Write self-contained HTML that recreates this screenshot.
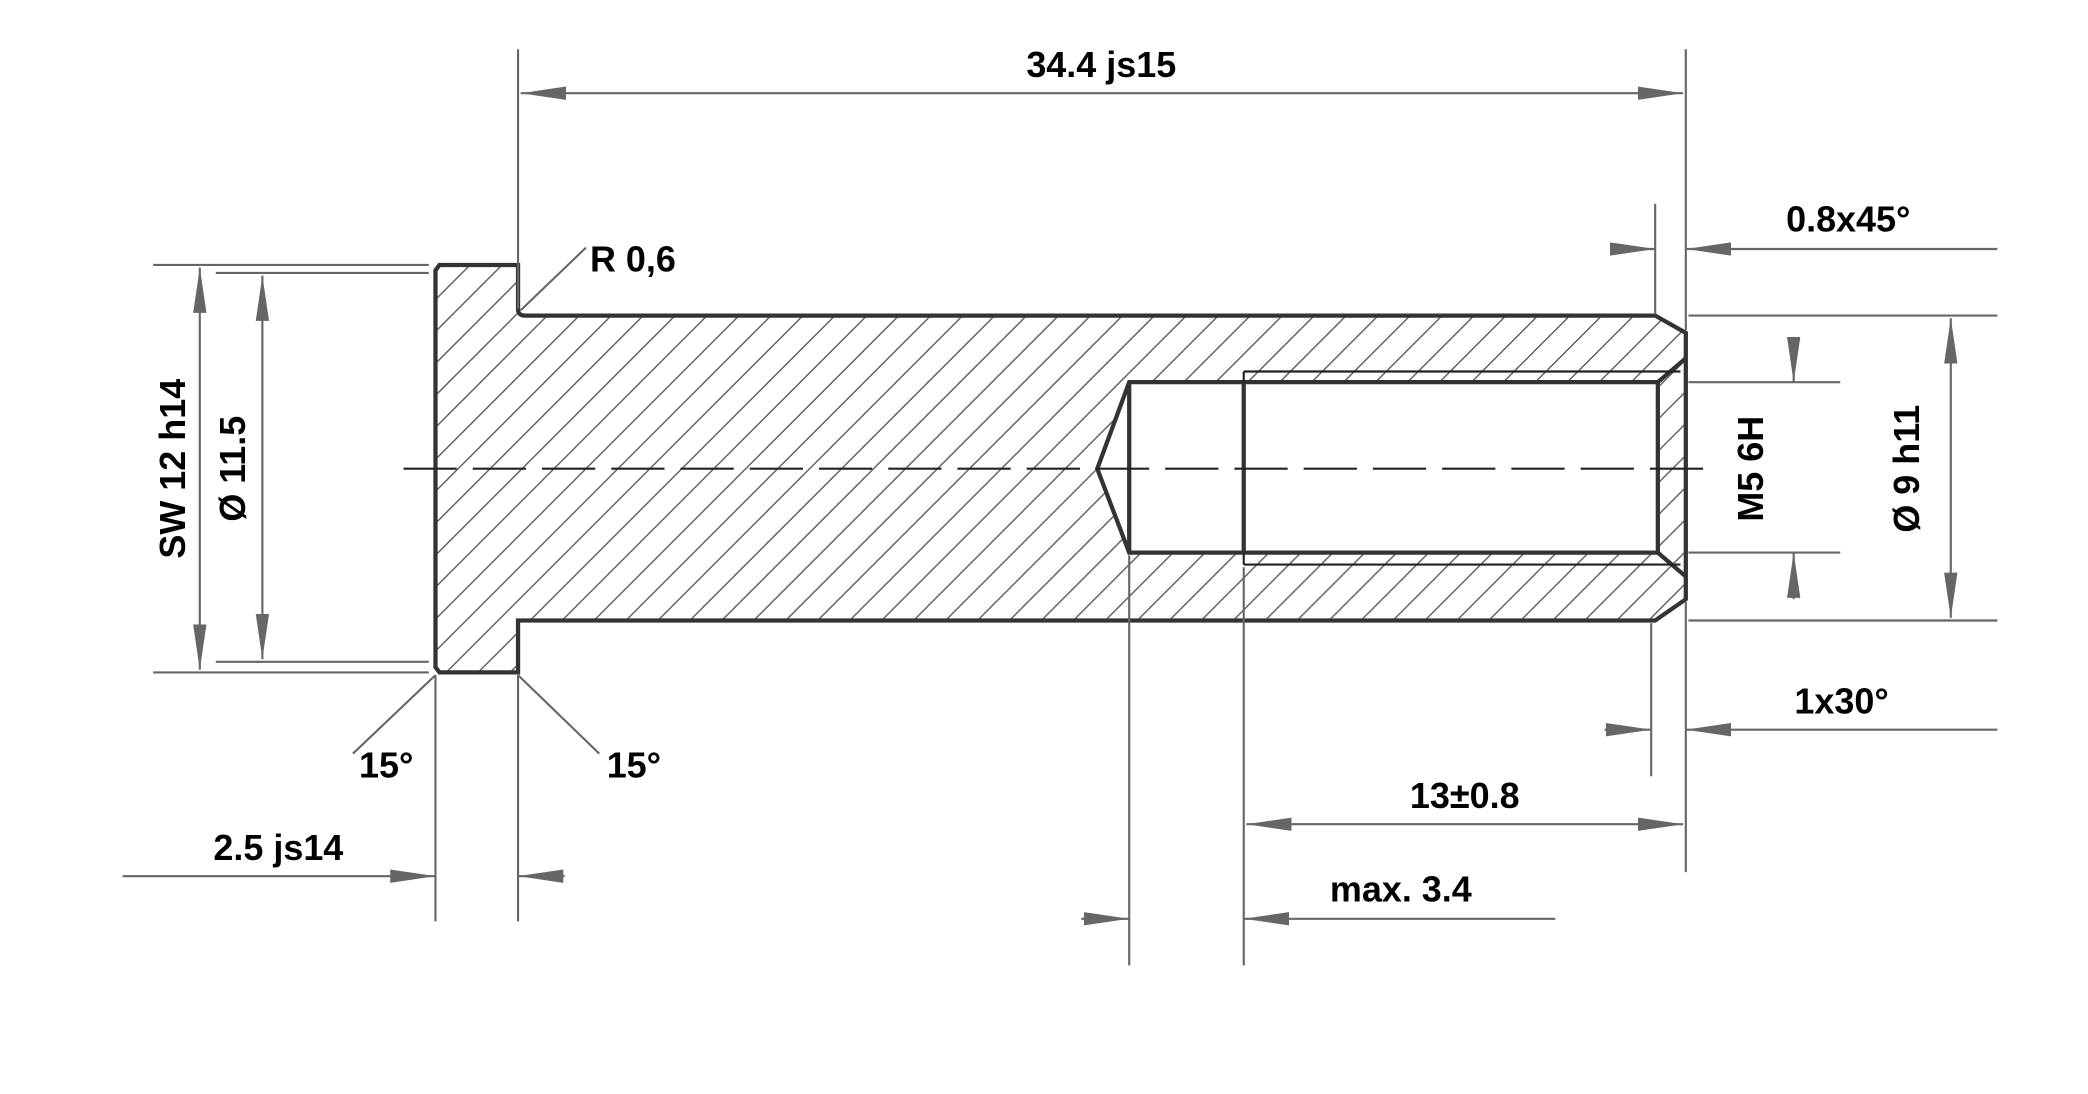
<!DOCTYPE html>
<html><head><meta charset="utf-8"><style>html,body{margin:0;padding:0;background:#fff}svg{display:block}</style></head><body>
<svg width="2088" height="1094" viewBox="0 0 1568 821.6" xmlns="http://www.w3.org/2000/svg" font-family="Liberation Sans, sans-serif" font-weight="bold" font-size="27" fill="#000">
<defs>
<pattern id="h" patternUnits="userSpaceOnUse" width="24" height="24">
<path d="M-2,26 L26,-2 M-4,4 L4,-4 M20,28 L28,20" stroke="#555" stroke-width="1"/>
</pattern>
<marker id="a" viewBox="0 0 34 10" refX="34" refY="5" markerWidth="34" markerHeight="10" markerUnits="userSpaceOnUse" orient="auto-start-reverse"><path d="M0,0 L34,5 L0,10 Z" fill="#666"/></marker>
</defs>
<path fill-rule="evenodd" fill="url(#h)" d="M330,199 L389,199 L389,232 Q389,237 394,237 L1243,237 L1266,250 L1266,450 L1243,466 L389,466 L389,505 L330,505 L327,501 L327,203 Z M848,287 L1245,287 L1245,415 L848,415 L824,352 Z"/>
<g fill="none" stroke="#333" stroke-width="3.2" stroke-linejoin="miter">
<path d="M330,199 L389,199 L389,232 Q389,237 394,237 L1243,237 L1266,250 L1266,450 L1243,466 L389,466 L389,505 L330,505 L327,501 L327,203 Z"/>
<path d="M1245,287 L848,287 L824,352 L848,415 L1245,415 Z"/>
<path d="M848,287 L848,415 M934,287 L934,415 M1245,287 L1266,269 M1245,415 L1266,433"/>
</g>
<g fill="none" stroke="#222" stroke-width="1.6">
<path d="M934,279 L1262,279 M934,424 L1262,424 M934,279 L934,287 M934,415 L934,424"/>
<path d="M303,352 L1290,352" stroke-dasharray="40,12"/>
</g>
<g fill="none" stroke="#666" stroke-width="1.6">
<path d="M389,37 L389,232 M1266,37 L1266,248"/>
<path d="M391,70 L1264,70" marker-start="url(#a)" marker-end="url(#a)"/>
<path d="M1243,153 L1243,236 M1240,468 L1240,583"/>
<path d="M1210,187 L1243,187" marker-end="url(#a)"/>
<path d="M1500,187 L1266,187" marker-end="url(#a)"/>
<path d="M1205,548 L1240,548" marker-end="url(#a)"/>
<path d="M1500,548 L1266,548" marker-end="url(#a)"/>
<path d="M1268,237 L1500,237 M1268,466 L1500,466"/>
<path d="M1465,239 L1465,464" marker-start="url(#a)" marker-end="url(#a)"/>
<path d="M1268,287 L1382,287 M1268,415 L1382,415"/>
<path d="M1347,253 L1347,287" marker-end="url(#a)"/>
<path d="M1347,450 L1347,415" marker-end="url(#a)"/>
<path d="M115,199 L322,199 M115,505 L322,505"/>
<path d="M150,201 L150,503" marker-start="url(#a)" marker-end="url(#a)"/>
<path d="M162,205 L322,205 M162,497 L322,497"/>
<path d="M197,207 L197,495" marker-start="url(#a)" marker-end="url(#a)"/>
<path d="M327,507 L265,566 M389,507 L450,566"/>
<path d="M391,233 L440,186"/>
<path d="M327,507 L327,692 M389,507 L389,692"/>
<path d="M92,658 L327,658" marker-end="url(#a)"/>
<path d="M424,658 L389,658" marker-end="url(#a)"/>
<path d="M934,426 L934,725 M1266,452 L1266,655 M848,417 L848,725"/>
<path d="M936,619 L1264,619" marker-start="url(#a)" marker-end="url(#a)"/>
<path d="M812,690 L848,690" marker-end="url(#a)"/>
<path d="M1168,690 L934,690" marker-end="url(#a)"/>
</g>
<g>
<text x="827" y="58" text-anchor="middle">34.4 js15</text>
<text x="1388" y="174" text-anchor="middle">0.8x45°</text>
<text x="1383" y="536" text-anchor="middle">1x30°</text>
<text x="443" y="204">R 0,6</text>
<text x="290" y="584" text-anchor="middle">15°</text>
<text x="476" y="584" text-anchor="middle">15°</text>
<text x="209" y="646" text-anchor="middle">2.5 js14</text>
<text x="1100" y="607" text-anchor="middle">13±0.8</text>
<text x="1052" y="677" text-anchor="middle">max. 3.4</text>
<text transform="translate(139,352) rotate(-90)" text-anchor="middle">SW 12 h14</text>
<text transform="translate(184,352) rotate(-90)" text-anchor="middle">Ø 11.5</text>
<text transform="translate(1324,352) rotate(-90)" text-anchor="middle">M5 6H</text>
<text transform="translate(1441,352) rotate(-90)" text-anchor="middle">Ø 9 h11</text>
</g>
</svg>
</body></html>
